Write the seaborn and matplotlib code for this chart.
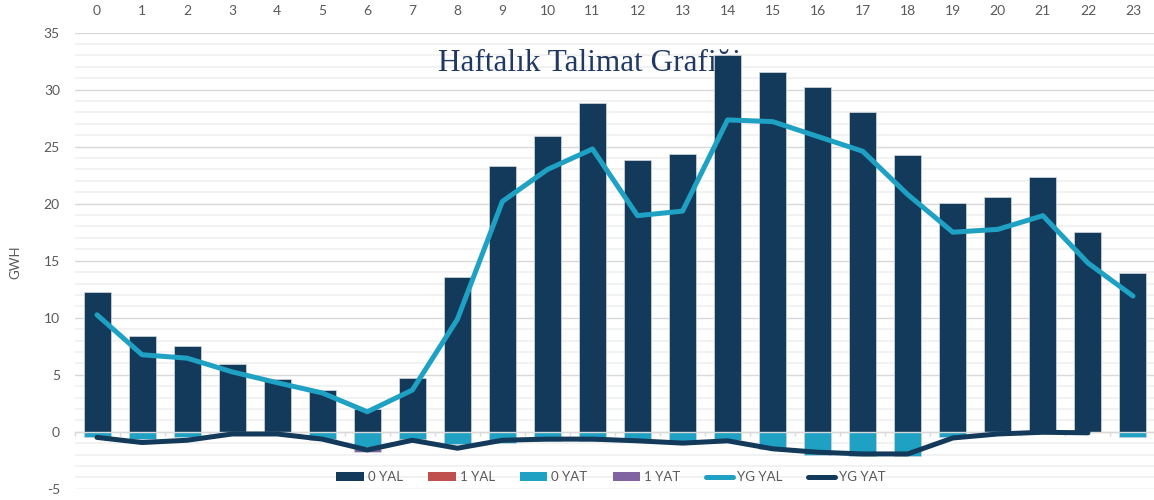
import numpy as np
import pandas as pd
import matplotlib
matplotlib.use("Agg")
import matplotlib.pyplot as plt
import seaborn as sns
from matplotlib.ticker import MultipleLocator, FixedLocator
from matplotlib.patches import Patch
from matplotlib.lines import Line2D

# ---------------- data ----------------
hours = list(range(24))
yal0 = [12.25, 8.4, 7.5, 5.9, 4.6, 3.65, 1.95, 4.7, 13.55, 23.3, 25.95, 28.8,
        23.8, 24.4, 33.0, 31.55, 30.2, 28.0, 24.25, 20.05, 20.6, 22.3, 17.5, 13.9]
yal1 = [0.0] * 24
yat0 = [-0.5, -0.65, -0.5, -0.15, -0.15, -0.6, -1.3, -0.6, -1.1, -0.95, -0.85, -0.8,
        -0.8, -0.85, -0.75, -1.55, -2.0, -2.1, -2.1, -0.45, -0.1, -0.05, -0.05, -0.45]
yat1 = [0.0, 0.0, 0.0, 0.0, 0.0, -0.1, -0.5, -0.15, 0.0, 0.0, 0.0, 0.0,
        0.0, 0.0, 0.0, 0.0, 0.0, 0.0, 0.0, 0.0, 0.0, 0.0, 0.0, 0.0]
yg_yal = [10.25, 6.75, 6.45, 5.25, 4.3, 3.4, 1.75, 3.65, 9.85, 20.2, 23.0, 24.8,
          18.95, 19.35, 27.35, 27.2, 25.9, 24.6, 20.8, 17.5, 17.75, 18.95, 14.8, 11.9]
yg_yat = [-0.5, -0.95, -0.75, -0.2, -0.2, -0.65, -1.6, -0.75, -1.45, -0.75, -0.65, -0.65,
          -0.8, -1.0, -0.8, -1.5, -1.8, -1.95, -1.95, -0.55, -0.2, -0.05, -0.1, np.nan]
series_names = ["0 YAL", "1 YAL", "0 YAT", "1 YAT", "YG YAL", "YG YAT"]
title_text = "Haftalık Talimat Grafiği"
y_label = "GWH"

# ---------------- style ----------------
C_DARK = "#133A5B"
C_RED = "#C0504D"
C_CYAN = "#1FA1C4"
C_PURPLE = "#8064A2"
C_TEXT = "#595959"

sns.set_style("white")
plt.rcParams["font.family"] = ["Lato", "DejaVu Sans"]

df = pd.DataFrame({
    "hour": hours,
    "yal0": yal0,
    "yal1": yal1,
    "yat0": yat0,
    "yat_total": np.array(yat0) + np.array(yat1),
    "yg_yal": yg_yal,
    "yg_yat": yg_yat,
})

W, H = 1154, 500
fig = plt.figure(figsize=(W / 100, H / 100), dpi=100)
y_top_px, y_bot_px = 32.7, 488.7
ax = fig.add_axes([74.5 / W, (H - y_bot_px) / H, 1081 / W, (y_bot_px - y_top_px) / H])

bw = 0.6
bar_kw = dict(width=bw, saturation=1, edgecolor="#D5DBE1", linewidth=0.5, ax=ax, zorder=2)
sns.barplot(data=df, x="hour", y="yal0", color=C_DARK, **bar_kw)
sns.barplot(data=df, x="hour", y="yal1", color=C_RED, **bar_kw)
sns.barplot(data=df, x="hour", y="yat_total", color=C_PURPLE, **bar_kw)
sns.barplot(data=df, x="hour", y="yat0", color=C_CYAN, **bar_kw)

sns.lineplot(data=df, x="hour", y="yg_yal", color=C_CYAN, linewidth=3.6,
             ax=ax, legend=False, zorder=4, solid_capstyle="round")
sns.lineplot(data=df.dropna(subset=["yg_yat"]), x="hour", y="yg_yat", color=C_DARK,
             linewidth=3.6, ax=ax, legend=False, zorder=4, solid_capstyle="round")

ax.set_xlim(-0.5, 23.5)
ax.set_ylim(-5, 35)

# grid
ax.set_axisbelow(True)
ax.yaxis.set_major_locator(MultipleLocator(5))
ax.yaxis.set_minor_locator(MultipleLocator(1))
ax.grid(axis="y", which="major", color="#D9D9D9", linewidth=1.0)
ax.grid(axis="y", which="minor", color="#F0F0F0", linewidth=1.2)
ax.grid(axis="x", which="both", visible=False)

# spines
for s in ["left", "right", "top"]:
    ax.spines[s].set_visible(False)
ax.spines["bottom"].set_position(("data", 0))
ax.spines["bottom"].set_color("#D9D9D9")
ax.spines["bottom"].set_linewidth(1.0)
ax.spines["bottom"].set_zorder(2.5)

# x ticks: labels on top, boundary tick marks on the zero line
ax.set_xticks(range(24))
ax.set_xticklabels([str(h) for h in hours])
ax.xaxis.set_minor_locator(FixedLocator(np.arange(-0.5, 24.0, 1.0)))
ax.tick_params(axis="x", which="major", top=False, bottom=False, labeltop=True,
               labelbottom=False, pad=7.5, labelsize=10, labelcolor=C_TEXT)
ax.tick_params(axis="x", which="minor", bottom=True, top=False, direction="out",
               length=3, width=1, color="#D9D9D9")
ax.tick_params(axis="y", which="both", left=False, right=False, pad=7,
               labelsize=10, labelcolor=C_TEXT)
ax.set_yticks(range(-5, 36, 5))
ax.set_yticklabels([str(v) for v in range(-5, 36, 5)])
ax.set_xlabel("")
ax.set_ylabel("")

fig.text(15 / W, 1 - 262 / H, y_label, rotation=90, ha="center", va="center",
         fontsize=9.5, color=C_TEXT)

# title behind bars
ax.text((589 - 74.5) / 1081, (y_bot_px - 63) / (y_bot_px - y_top_px), title_text,
        transform=ax.transAxes, ha="center", va="center", fontsize=22.5,
        color="#1F3864", family=["Liberation Serif", "DejaVu Serif"], zorder=1.5)

# legend
handles = [
    Patch(facecolor=C_DARK, edgecolor="none"),
    Patch(facecolor=C_RED, edgecolor="none"),
    Patch(facecolor=C_CYAN, edgecolor="none"),
    Patch(facecolor=C_PURPLE, edgecolor="none"),
    Line2D([0], [0], color=C_CYAN, linewidth=3.6, solid_capstyle="round"),
    Line2D([0], [0], color=C_DARK, linewidth=3.6, solid_capstyle="round"),
]
leg = ax.legend(handles, series_names, ncol=6, loc="center",
                bbox_to_anchor=((611 - 74.5) / 1081, (y_bot_px - 477) / (y_bot_px - y_top_px)),
                frameon=False, fontsize=9.5, handlelength=2.1, handleheight=0.6,
                handletextpad=0.3, columnspacing=1.9, labelcolor=C_TEXT)
leg.set_zorder(5)

fig.savefig("out.png", dpi=100)
